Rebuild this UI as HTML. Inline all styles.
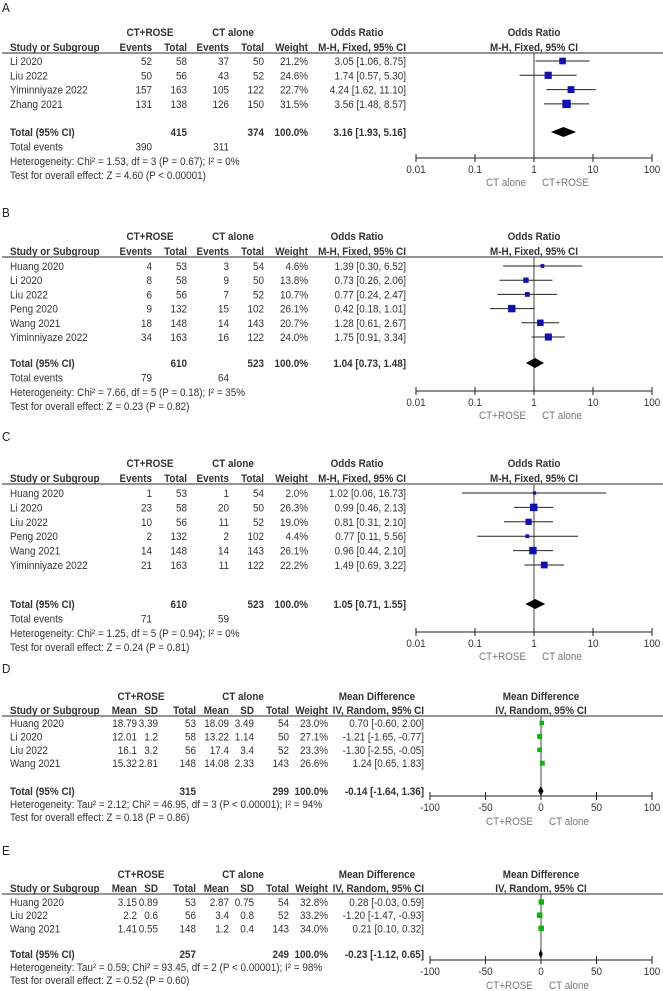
<!DOCTYPE html>
<html><head><meta charset="utf-8"><style>
html,body{margin:0;padding:0;background:#fff;}
svg{display:block;font-family:"Liberation Sans",Arial,sans-serif;}
</style></head><body>
<svg id="fig" width="663" height="991" viewBox="0 0 663 991" xmlns="http://www.w3.org/2000/svg"></svg>
<script>
// ---- Panel A data ----
const aStudy=["Li 2020","Liu 2022","Yiminniyaze 2022","Zhang 2021"];
const aEvT=[52,50,157,131];
const aTotT=[58,56,163,138];
const aEvC=[37,43,105,126];
const aTotC=[50,52,122,150];
const aW=[21.2,24.6,22.7,31.5];
const aEst=[3.05,1.74,4.24,3.56];
const aLo=[1.06,0.57,1.62,1.48];
const aHi=[8.75,5.30,11.10,8.57];
const aTotals=[415,374];
const aEvents=[390,311];
const aPooled=[3.16,1.93,5.16];
// ---- Panel B data ----
const bStudy=["Huang 2020","Li 2020","Liu 2022","Peng 2020","Wang 2021","Yiminniyaze 2022"];
const bEvT=[4,8,6,9,18,34];
const bTotT=[53,58,56,132,148,163];
const bEvC=[3,9,7,15,14,16];
const bTotC=[54,50,52,102,143,122];
const bW=[4.6,13.8,10.7,26.1,20.7,24.0];
const bEst=[1.39,0.73,0.77,0.42,1.28,1.75];
const bLo=[0.30,0.26,0.24,0.18,0.61,0.91];
const bHi=[6.52,2.06,2.47,1.01,2.67,3.34];
const bTotals=[610,523];
const bEvents=[79,64];
const bPooled=[1.04,0.73,1.48];
// ---- Panel C data ----
const cStudy=["Huang 2020","Li 2020","Liu 2022","Peng 2020","Wang 2021","Yiminniyaze 2022"];
const cEvT=[1,23,10,2,14,21];
const cTotT=[53,58,56,132,148,163];
const cEvC=[1,20,11,2,14,11];
const cTotC=[54,50,52,102,143,122];
const cW=[2.0,26.3,19.0,4.4,26.1,22.2];
const cEst=[1.02,0.99,0.81,0.77,0.96,1.49];
const cLo=[0.06,0.46,0.31,0.11,0.44,0.69];
const cHi=[16.73,2.13,2.10,5.56,2.10,3.22];
const cTotals=[610,523];
const cEvents=[71,59];
const cPooled=[1.05,0.71,1.55];
// ---- Panel D data ----
const dStudy=["Huang 2020","Li 2020","Liu 2022","Wang 2021"];
const dMeanT=["18.79","12.01","16.1","15.32"];
const dSdT=["3.39","1.2","3.2","2.81"];
const dNT=[53,58,56,148];
const dMeanC=["18.09","13.22","17.4","14.08"];
const dSdC=["3.49","1.14","3.4","2.33"];
const dNC=[54,50,52,143];
const dW=[23.0,27.1,23.3,26.6];
const dEst=[0.70,-1.21,-1.30,1.24];
const dLo=[-0.60,-1.65,-2.55,0.65];
const dHi=[2.00,-0.77,-0.05,1.83];
const dTotals=[315,299];
const dPooled=[-0.14,-1.64,1.36];
// ---- Panel E data ----
const eStudy=["Huang 2020","Liu 2022","Wang 2021"];
const eMeanT=["3.15","2.2","1.41"];
const eSdT=["0.89","0.6","0.55"];
const eNT=[53,56,148];
const eMeanC=["2.87","3.4","1.2"];
const eSdC=["0.75","0.8","0.4"];
const eNC=[54,52,143];
const eW=[32.8,33.2,34.0];
const eEst=[0.28,-1.20,0.21];
const eLo=[-0.03,-1.47,0.10];
const eHi=[0.59,-0.93,0.32];
const eTotals=[257,249];
const ePooled=[-0.23,-1.12,0.65];
const orTicks=["0.01","0.1","1","10","100"];
const mdTicks=["-100","-50","0","50","100"];

const NS="http://www.w3.org/2000/svg";
const svg=document.getElementById("fig");
const TXT="#333";
const SX=0.9;
function mk(tag,attrs,parent){const e=document.createElementNS(NS,tag);for(const k in attrs)e.setAttribute(k,attrs[k]);(parent||svg).appendChild(e);return e;}
function txt(g,x,y,s,anchor,bold,size,color){
  const t=mk("text",{x:x/SX,y:y+4,transform:"scale("+SX+",1)","text-anchor":anchor||"start","font-size":size||11,fill:color||TXT,"font-weight":bold?"bold":"normal"},g);
  t.textContent=s;return t;
}
function f2(v){return v.toFixed(2);}
function ci(e,l,h){return f2(e)+" ["+f2(l)+", "+f2(h)+"]";}

function orPanel(P){
  const g=mk("g",{});
  
  
  const lab=txt(g,2,P.label,P.id,"start",false,13,"#222");
  
  
  const cx=534, sc=59, ox=v=>cx+Math.log10(v)*sc;
  txt(g,150,P.h1,"CT+ROSE","middle",true);
  txt(g,233,P.h1,"CT alone","middle",true);
  txt(g,357,P.h1,"Odds Ratio","middle",true);
  txt(g,cx,P.h1,"Odds Ratio","middle",true);
  txt(g,10,P.h2,"Study or Subgroup","start",true);
  txt(g,152,P.h2,"Events","end",true);
  txt(g,187,P.h2,"Total","end",true);
  txt(g,229,P.h2,"Events","end",true);
  txt(g,264,P.h2,"Total","end",true);
  txt(g,308,P.h2,"Weight","end",true);
  txt(g,406,P.h2,"M-H, Fixed, 95% CI","end",true);
  txt(g,cx,P.h2,"M-H, Fixed, 95% CI","middle",true);
  const hl=mk("line",{x1:2,x2:663,y1:P.line,y2:P.line,stroke:"#555","stroke-width":1.2},g);
  
  
  const vl=mk("line",{x1:cx,x2:cx,y1:P.line,y2:P.axis,stroke:"#444","stroke-width":1},g);
  
  
  P.study.forEach((s,i)=>{
    const y=P.row0+i*P.pitch;
    txt(g,10,y,s);
    txt(g,152,y,String(P.evT[i]),"end");
    txt(g,187,y,String(P.totT[i]),"end");
    txt(g,229,y,String(P.evC[i]),"end");
    txt(g,264,y,String(P.totC[i]),"end");
    txt(g,308,y,P.w[i].toFixed(1)+"%","end");
    txt(g,406,y,ci(P.est[i],P.lo[i],P.hi[i]),"end");
    const ln=mk("line",{x1:ox(P.lo[i]),x2:ox(P.hi[i]),y1:y,y2:y,stroke:"#222","stroke-width":1},g);
    
    
    const sz=3+P.w[i]*0.17;
    const sq=mk("rect",{x:ox(P.est[i])-sz/2,y:y-sz/2,width:sz,height:sz,fill:"#1010b0"},g);
    
    
  });
  txt(g,10,P.total,"Total (95% CI)","start",true);
  txt(g,187,P.total,String(P.totals[0]),"end",true);
  txt(g,264,P.total,String(P.totals[1]),"end",true);
  txt(g,308,P.total,"100.0%","end",true);
  txt(g,406,P.total,ci(P.pooled[0],P.pooled[1],P.pooled[2]),"end",true);
  const dl=ox(P.pooled[1]),dh=ox(P.pooled[2]),dm=ox(P.pooled[0]);
  const dia=mk("polygon",{points:`${dl},${P.total} ${dm},${P.total-5} ${dh},${P.total} ${dm},${P.total+5}`,fill:"#000"},g);
  
  
  txt(g,10,P.total+14.5,"Total events");
  txt(g,152,P.total+14.5,String(P.events[0]),"end");
  txt(g,229,P.total+14.5,String(P.events[1]),"end");
  txt(g,10,P.total+29,P.het);
  txt(g,10,P.total+43,P.test);
  const ax=mk("line",{x1:ox(0.01),x2:ox(100),y1:P.axis,y2:P.axis,stroke:"#222","stroke-width":1},g);
  
  
  orTicks.forEach(t=>{
    const x=ox(parseFloat(t));
    mk("line",{x1:x,x2:x,y1:P.axis-4,y2:P.axis+4,stroke:"#222"},g);
    txt(g,x,P.axis+11,t,"middle");
  });
  txt(g,cx-8,P.axis+24,P.leftLab,"end",false,11,"#777");
  txt(g,cx+8,P.axis+24,P.rightLab,"start",false,11,"#777");
}

function mdPanel(P){
  const g=mk("g",{});
  
  
  const lab=txt(g,2,P.label,P.id,"start",false,13,"#222");
  
  
  const cx=541, sc=1.11, ox=v=>cx+v*sc;
  txt(g,141,P.h1,"CT+ROSE","middle",true);
  txt(g,243,P.h1,"CT alone","middle",true);
  txt(g,377,P.h1,"Mean Difference","middle",true);
  txt(g,cx,P.h1,"Mean Difference","middle",true);
  txt(g,10,P.h2,"Study or Subgroup","start",true);
  const cols=[137,158,196,229,254,289,328,424];
  const hd=["Mean","SD","Total","Mean","SD","Total","Weight","IV, Random, 95% CI"];
  hd.forEach((h,i)=>txt(g,cols[i],P.h2,h,"end",true));
  txt(g,cx,P.h2,"IV, Random, 95% CI","middle",true);
  const hl=mk("line",{x1:2,x2:663,y1:P.line,y2:P.line,stroke:"#555","stroke-width":1.2},g);
  
  
  const vl=mk("line",{x1:cx,x2:cx,y1:P.line,y2:P.axis,stroke:"#444","stroke-width":1},g);
  
  
  P.study.forEach((s,i)=>{
    const y=P.row0+i*P.pitch;
    txt(g,10,y,s);
    const vals=[P.mT[i],P.sT[i],String(P.nT[i]),P.mC[i],P.sC[i],String(P.nC[i]),P.w[i].toFixed(1)+"%",ci(P.est[i],P.lo[i],P.hi[i])];
    vals.forEach((v,j)=>txt(g,cols[j],y,v,"end"));
    const ln=mk("line",{x1:ox(P.lo[i]),x2:ox(P.hi[i]),y1:y,y2:y,stroke:"#222","stroke-width":1},g);
    
    
    const sz=2.5+P.w[i]*0.09;
    const sq=mk("rect",{x:ox(P.est[i])-sz/2,y:y-sz/2,width:sz,height:sz,fill:"#10b010"},g);
    
    
  });
  txt(g,10,P.total,"Total (95% CI)","start",true);
  txt(g,196,P.total,String(P.totals[0]),"end",true);
  txt(g,289,P.total,String(P.totals[1]),"end",true);
  txt(g,328,P.total,"100.0%","end",true);
  txt(g,424,P.total,ci(P.pooled[0],P.pooled[1],P.pooled[2]),"end",true);
  const dl=ox(P.pooled[1])-1,dh=ox(P.pooled[2])+1,dm=ox(P.pooled[0]);
  const dia=mk("polygon",{points:`${dl},${P.total} ${dm},${P.total-5} ${dh},${P.total} ${dm},${P.total+5}`,fill:"#000"},g);
  
  
  txt(g,10,P.total+13,P.het);
  txt(g,10,P.total+26,P.test);
  const ax=mk("line",{x1:ox(-100),x2:ox(100),y1:P.axis,y2:P.axis,stroke:"#222","stroke-width":1},g);
  
  
  mdTicks.forEach(t=>{
    const x=ox(parseFloat(t));
    mk("line",{x1:x,x2:x,y1:P.axis-4,y2:P.axis+4,stroke:"#222"},g);
    txt(g,x,P.axis+11,t,"middle");
  });
  txt(g,cx-8,P.axis+25,"CT+ROSE","end",false,11,"#777");
  txt(g,cx+8,P.axis+25,"CT alone","start",false,11,"#777");
}

orPanel({id:"A",label:8,h1:32,h2:47,line:53,row0:61,pitch:14.3,total:132,axis:158,
  study:aStudy,evT:aEvT,totT:aTotT,evC:aEvC,totC:aTotC,w:aW,est:aEst,lo:aLo,hi:aHi,totals:aTotals,events:aEvents,pooled:aPooled,
  het:"Heterogeneity: Chi² = 1.53, df = 3 (P = 0.67); I² = 0%",test:"Test for overall effect: Z = 4.60 (P < 0.00001)",
  leftLab:"CT alone",rightLab:"CT+ROSE"});
orPanel({id:"B",label:213,h1:236,h2:251,line:257,row0:266,pitch:14.2,total:363,axis:391,
  study:bStudy,evT:bEvT,totT:bTotT,evC:bEvC,totC:bTotC,w:bW,est:bEst,lo:bLo,hi:bHi,totals:bTotals,events:bEvents,pooled:bPooled,
  het:"Heterogeneity: Chi² = 7.66, df = 5 (P = 0.18); I² = 35%",test:"Test for overall effect: Z = 0.23 (P = 0.82)",
  leftLab:"CT+ROSE",rightLab:"CT alone"});
orPanel({id:"C",label:437,h1:463,h2:478,line:484,row0:493,pitch:14.4,total:604,axis:632,
  study:cStudy,evT:cEvT,totT:cTotT,evC:cEvC,totC:cTotC,w:cW,est:cEst,lo:cLo,hi:cHi,totals:cTotals,events:cEvents,pooled:cPooled,
  het:"Heterogeneity: Chi² = 1.25, df = 5 (P = 0.94); I² = 0%",test:"Test for overall effect: Z = 0.24 (P = 0.81)",
  leftLab:"CT+ROSE",rightLab:"CT alone"});
mdPanel({id:"D",label:669,h1:696,h2:710,line:716,row0:723,pitch:13.4,total:791,axis:796,
  study:dStudy,mT:dMeanT,sT:dSdT,nT:dNT,mC:dMeanC,sC:dSdC,nC:dNC,w:dW,est:dEst,lo:dLo,hi:dHi,totals:dTotals,pooled:dPooled,
  het:"Heterogeneity: Tau² = 2.12; Chi² = 46.95, df = 3 (P < 0.00001); I² = 94%",test:"Test for overall effect: Z = 0.18 (P = 0.86)"});
mdPanel({id:"E",label:851,h1:874,h2:888,line:894,row0:902,pitch:13.2,total:954,axis:960,
  study:eStudy,mT:eMeanT,sT:eSdT,nT:eNT,mC:eMeanC,sC:eSdC,nC:eNC,w:eW,est:eEst,lo:eLo,hi:eHi,totals:eTotals,pooled:ePooled,
  het:"Heterogeneity: Tau² = 0.59; Chi² = 93.45, df = 2 (P < 0.00001); I² = 98%",test:"Test for overall effect: Z = 0.52 (P = 0.60)"});
</script>
</body></html>
